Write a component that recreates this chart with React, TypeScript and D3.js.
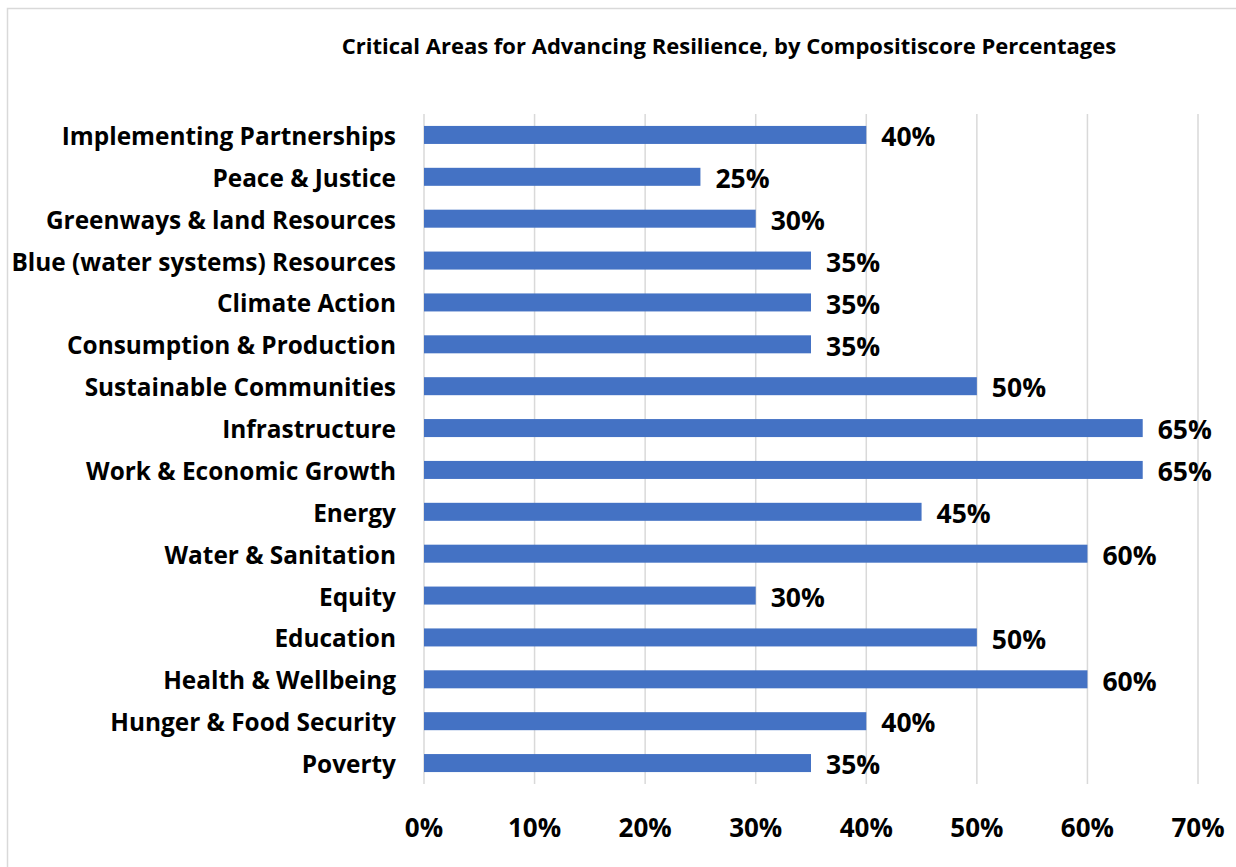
import React from "react";
import * as d3 from "d3";

const categories = [
  "Implementing Partnerships",
  "Peace & Justice",
  "Greenways & land Resources",
  "Blue (water systems) Resources",
  "Climate Action",
  "Consumption & Production",
  "Sustainable Communities",
  "Infrastructure",
  "Work & Economic Growth",
  "Energy",
  "Water & Sanitation",
  "Equity",
  "Education",
  "Health & Wellbeing",
  "Hunger & Food Security",
  "Poverty",
];
const values = [0.4, 0.25, 0.3, 0.35, 0.35, 0.35, 0.5, 0.65, 0.65, 0.45, 0.6, 0.3, 0.5, 0.6, 0.4, 0.35];
const xTicks = [0, 0.1, 0.2, 0.3, 0.4, 0.5, 0.6, 0.7];
const title = "Critical Areas for Advancing Resilience, by Compositiscore Percentages";

const W = 1236;
const H = 867;
const FONT = "'Open Sans', sans-serif";

export default function App() {
  const x = d3.scaleLinear().domain([0, 0.7]).range([424, 1198]);
  const y = d3.scaleBand().domain(categories).range([114, 784]).paddingInner(0.57).paddingOuter(0.285);
  const fmt = d3.format(".0%");
  return (
    <svg width={W} height={H} style={{ position: "absolute", left: 0, top: 0, background: "#fff" }}>
      <rect x={7.5} y={8.5} width={W + 10} height={H + 10} fill="#fff" stroke="#d9d9d9" strokeWidth={1.5} />
      <text x={729} y={46} dy="0.35em" textAnchor="middle" fontFamily={FONT} fontWeight={700} fontSize={22} fill="#000">
        {title}
      </text>
      {xTicks.map((t) => (
        <line key={t} x1={x(t)} x2={x(t)} y1={114} y2={784} stroke="#d9d9d9" strokeWidth={1.5} />
      ))}
      {categories.map((c, i) => (
        <g key={c}>
          <rect x={x(0)} y={y(c)!} width={x(values[i]) - x(0)} height={y.bandwidth()} fill="#4472C4" />
          <text x={396} y={y(c)! + y.bandwidth() / 2 + 1.5} dy="0.35em" textAnchor="end" fontFamily={FONT} fontWeight={700} fontSize={24.4} fill="#000">
            {c}
          </text>
          <text x={x(values[i]) + 15} y={y(c)! + y.bandwidth() / 2 + 2} dy="0.35em" textAnchor="start" fontFamily={FONT} fontWeight={700} fontSize={26.5} fill="#000">
            {fmt(values[i])}
          </text>
        </g>
      ))}
      {xTicks.map((t) => (
        <text key={"l" + t} x={x(t)} y={828} dy="0.35em" textAnchor="middle" fontFamily={FONT} fontWeight={700} fontSize={26} fill="#000">
          {fmt(t)}
        </text>
      ))}
    </svg>
  );
}
